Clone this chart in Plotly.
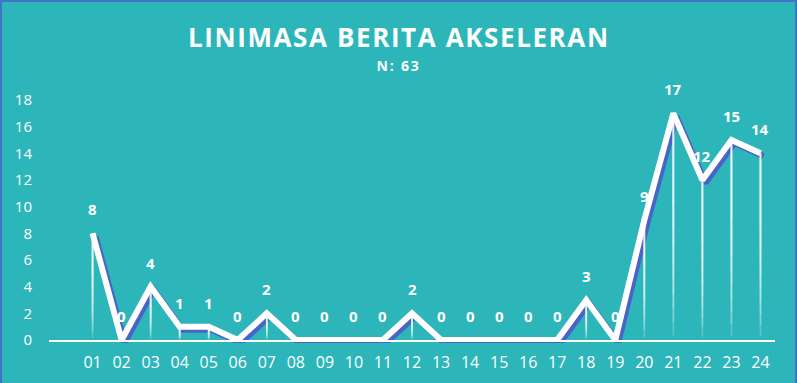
import plotly.graph_objects as go

categories = ["01","02","03","04","05","06","07","08","09","10","11","12",
              "13","14","15","16","17","18","19","20","21","22","23","24"]
values = [8,0,4,1,1,0,2,0,0,0,0,2,0,0,0,0,0,3,0,9,17,12,15,14]
title_text = "LINIMASA BERITA AKSELERAN"
subtitle_text = "N: 63"
y_ticks = [0,2,4,6,8,10,12,14,16,18]

W, H = 797, 383
BG = "#2CB6B9"
SHADOW = "#4A63C8"
BORDER = "#4472C4"
FONT = "Open Sans"

# pixel layout
x0, x1 = 49, 775
ybot, ytop = 340, 100
dx, dy = 3, 3

xdom = [x0 / W, x1 / W]
ydom = [1 - ybot / H, 1 - ytop / H]
xdom_s = [(x0 + dx) / W, (x1 + dx) / W]
ydom_s = [1 - (ybot + dy) / H, 1 - (ytop + dy) / H]

idx = list(range(len(categories)))
xr = [-1.5, len(categories) - 0.5]
yr = [0, 18]

fig = go.Figure()

# shadow line (on shifted axes, drawn first)
fig.add_trace(go.Scatter(x=idx, y=values, mode="lines", xaxis="x", yaxis="y",
                         line=dict(color=SHADOW, width=6), hoverinfo="skip",
                         cliponaxis=True, showlegend=False))

# drop lines with fading gradient (stacked translucent bars)
fractions = [0.02, 0.08, 0.14, 0.2, 0.27, 0.34, 0.42, 0.5, 0.6]
for f in fractions:
    fig.add_trace(go.Bar(x=idx, y=[v * (1 - f) for v in values],
                         base=[v * f for v in values],
                         width=0.06, xaxis="x2", yaxis="y2",
                         marker=dict(color="rgba(255,255,255,0.22)", line=dict(width=0)),
                         hoverinfo="skip", showlegend=False))

# main white line
fig.add_trace(go.Scatter(x=idx, y=values, mode="lines", xaxis="x2", yaxis="y2",
                         line=dict(color="white", width=6), cliponaxis=False,
                         showlegend=False))

# data labels
for i, v in zip(idx, values):
    fig.add_annotation(x=i, y=v, xref="x2", yref="y2", text=f"<b>{v}</b>",
                       showarrow=False, yshift=24,
                       font=dict(family=FONT, size=15, color="white"))

fig.add_annotation(x=0.5, y=1 - 37 / H, xref="paper", yref="paper",
                   text=f"<b>{title_text}</b>", showarrow=False,
                   font=dict(family=FONT, size=26, color="white"),
                   xanchor="center", yanchor="middle", name="title")
fig.add_annotation(x=0.5, y=1 - 66 / H, xref="paper", yref="paper",
                   text=f"<b>{subtitle_text}</b>", showarrow=False,
                   font=dict(family=FONT, size=14, color="white"),
                   xanchor="center", yanchor="middle", name="subtitle")

# border
fig.add_shape(type="rect", xref="paper", yref="paper",
              x0=1 / W, x1=796 / W, y0=-0.05, y1=1 - 1 / H,
              line=dict(color=BORDER, width=2), layer="above")

fig.update_layout(
    width=W, height=H,
    margin=dict(l=0, r=0, t=0, b=0),
    paper_bgcolor=BG, plot_bgcolor="rgba(0,0,0,0)",
    barmode="overlay",
    xaxis=dict(domain=xdom_s, range=xr, visible=False, fixedrange=True),
    yaxis=dict(domain=ydom_s, range=yr, visible=False, fixedrange=True),
    xaxis2=dict(domain=xdom, range=xr, anchor="y2",
                tickmode="array", tickvals=idx, ticktext=categories,
                showline=True, linecolor="white", linewidth=2,
                showgrid=False, zeroline=False, ticks="",
                ticklabelstandoff=7,
                tickfont=dict(family=FONT, size=16, color="white"),
                automargin=False, fixedrange=True),
    yaxis2=dict(domain=ydom, range=yr, anchor="x2",
                tickmode="array", tickvals=y_ticks,
                showline=False, showgrid=False, zeroline=False, ticks="",
                ticklabelstandoff=16,
                tickfont=dict(family=FONT, size=15, color="white"),
                automargin=False, fixedrange=True),
    showlegend=False,
)

post = """
document.body.style.margin='0';
document.body.style.overflow='hidden';
var gd = document.getElementById('{plot_id}');
gd.querySelectorAll('.annotation-text').forEach(function(t){
  var s = t.textContent;
  if (s === '%s') { t.style.letterSpacing = '1.6px'; }
  if (s === '%s') { t.style.letterSpacing = '1.8px'; }
});
gd.querySelectorAll('.xtick text').forEach(function(t){ t.style.letterSpacing='1px'; });
""" % (title_text, subtitle_text)

fig.write_html("out.html", post_script=post, config={"displayModeBar": False})
